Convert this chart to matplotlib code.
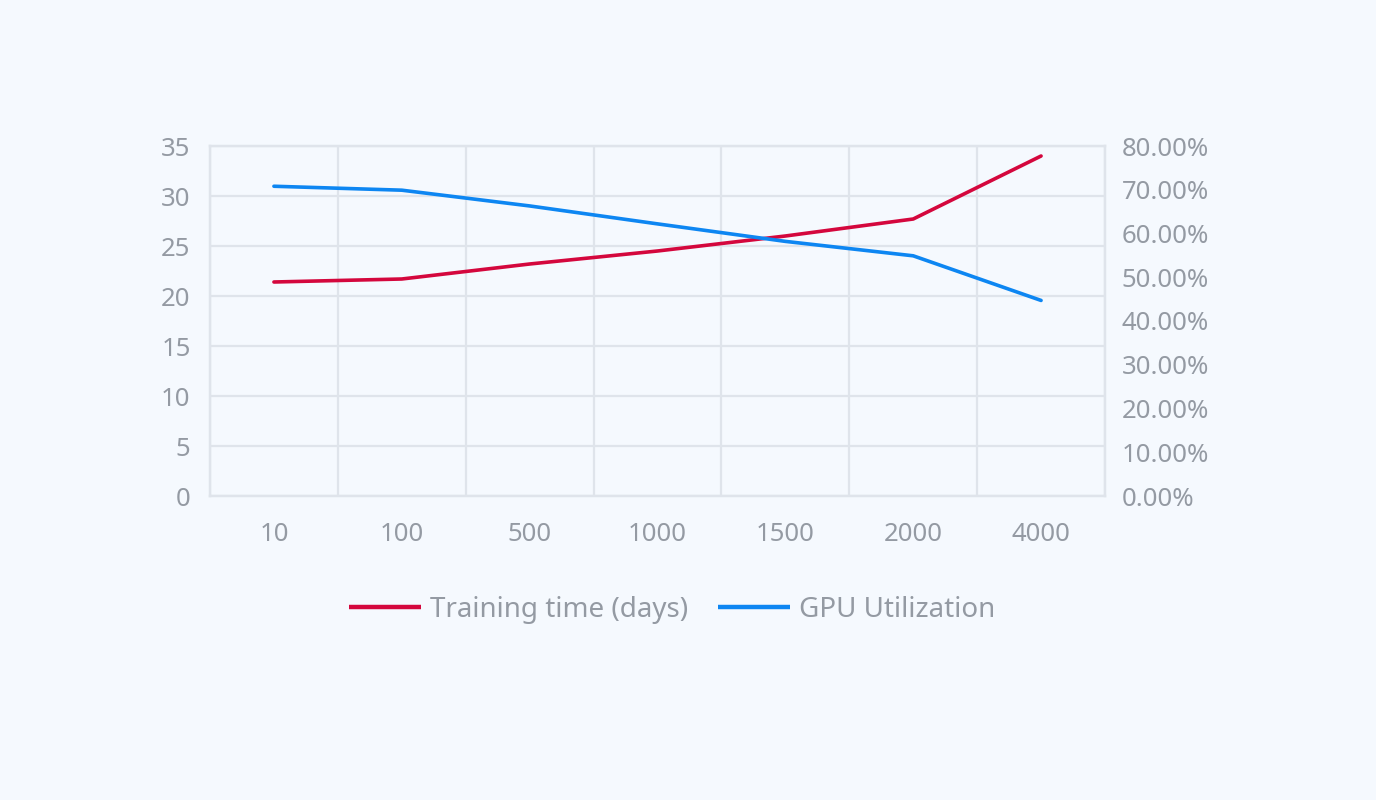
"""Training time vs GPU utilization by cluster size."""

import matplotlib

matplotlib.use("Agg")
import matplotlib.pyplot as plt  # noqa: E402
from matplotlib.ticker import FuncFormatter, MultipleLocator  # noqa: E402

_BG = "#f5f9fe"
_GRID = "#dfe4eb"
_TEXT = "#949aa3"
_RED = "#d4073d"
_BLUE = "#0d86f2"

gpus = ["10", "100", "500", "1000", "1500", "2000", "4000"]
training_days = [21.4, 21.7, 23.2, 24.5, 26.0, 27.7, 34.0]
gpu_util = [70.8, 69.9, 66.3, 62.2, 58.2, 54.9, 44.7]

plt.rcParams.update({"font.family": ["Noto Sans", "DejaVu Sans"], "font.size": 18})

fig = plt.figure(figsize=(13.76, 8.0), dpi=100, facecolor=_BG)
ax = fig.add_axes([210 / 1376, 1 - 496 / 800, 895 / 1376, 350 / 800])
ax.set_facecolor(_BG)
ax2 = ax.twinx()

x = range(len(gpus))
l1, = ax.plot(x, training_days, color=_RED, lw=2.6, solid_capstyle="round",
              label="Training time (days)")
l2, = ax2.plot(x, gpu_util, color=_BLUE, lw=2.6, solid_capstyle="round",
               label="GPU Utilization")

ax.set_xlim(-0.5, len(gpus) - 0.5)
ax.set_ylim(0, 35)
ax2.set_ylim(0, 80)
ax.yaxis.set_major_locator(MultipleLocator(5))
ax2.yaxis.set_major_locator(MultipleLocator(10))
ax2.yaxis.set_major_formatter(FuncFormatter(lambda v, _: f"{v:.2f}%"))

ax.set_xticks(list(x))
ax.set_xticklabels(gpus)
ax.set_xticks([i + 0.5 for i in range(-1, len(gpus))], minor=True)
ax.grid(True, which="minor", axis="x", color=_GRID, lw=1.6)
ax.grid(True, which="major", axis="y", color=_GRID, lw=1.6)
ax.set_axisbelow(True)

for a in (ax, ax2):
    for s in a.spines.values():
        s.set_color(_GRID)
        s.set_linewidth(1.6)
    a.tick_params(which="both", length=0, colors=_TEXT, labelsize=18.5)
ax.tick_params(axis="y", pad=14)
ax.tick_params(axis="x", pad=19)
ax2.tick_params(axis="y", pad=12)

leg = fig.legend(handles=[l1, l2], loc="center",
                 bbox_to_anchor=(672 / 1376, 1 - 610 / 800),
                 ncol=2, frameon=False, fontsize=20, labelcolor=_TEXT,
                 handlelength=2.6, handletextpad=0.3, columnspacing=1.1)
for h in leg.legend_handles:
    h.set_linewidth(3.2)
    h.set_solid_capstyle("butt")

fig.savefig("out.png", dpi=100, facecolor=_BG)
